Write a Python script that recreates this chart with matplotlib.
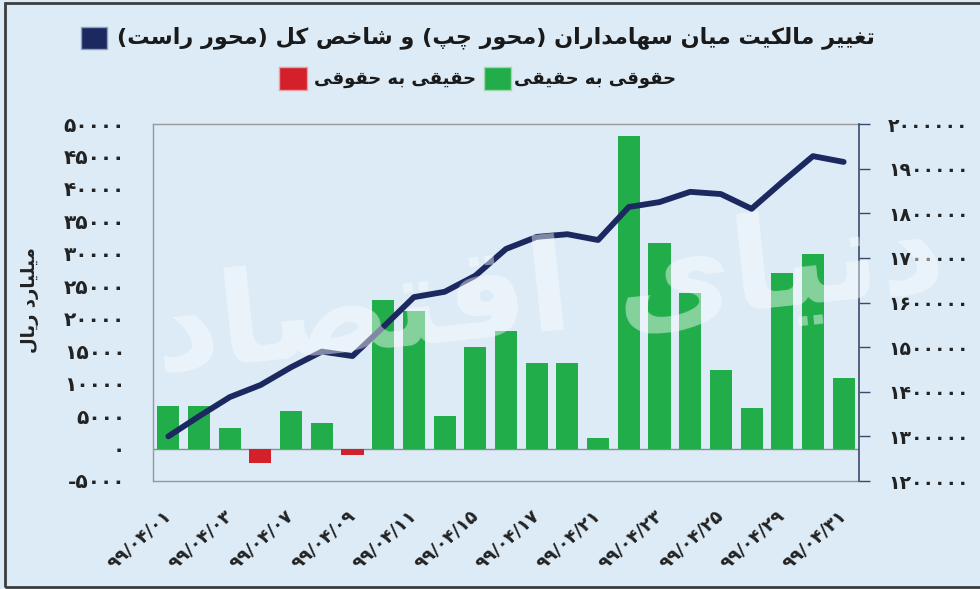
import matplotlib
matplotlib.use("Agg")
import matplotlib.pyplot as plt
from matplotlib.patches import Rectangle
import numpy as np

# ---------------- data ----------------
dates = ["۹۹/۰۴/۰۱", "۹۹/۰۴/۰۲", "۹۹/۰۴/۰۳", "۹۹/۰۴/۰۴", "۹۹/۰۴/۰۷", "۹۹/۰۴/۰۸",
         "۹۹/۰۴/۰۹", "۹۹/۰۴/۱۰", "۹۹/۰۴/۱۱", "۹۹/۰۴/۱۴", "۹۹/۰۴/۱۵", "۹۹/۰۴/۱۶",
         "۹۹/۰۴/۱۷", "۹۹/۰۴/۱۸", "۹۹/۰۴/۲۱", "۹۹/۰۴/۲۲", "۹۹/۰۴/۲۳", "۹۹/۰۴/۲۴",
         "۹۹/۰۴/۲۵", "۹۹/۰۴/۲۸", "۹۹/۰۴/۲۹", "۹۹/۰۴/۳۰", "۹۹/۰۴/۳۱"]
flow = [6500, 6500, 3200, -2300, 5800, 3900, -1000, 22900, 21200, 5000, 15600, 18100,
        13200, 13200, 1700, 48100, 31600, 23900, 12100, 6300, 27000, 29900, 10900]
index_vals = [1300000, 1345000, 1388000, 1415000, 1455000, 1490000, 1480000, 1545000,
              1612000, 1624000, 1660000, 1720000, 1747000, 1753000, 1740000, 1814000,
              1825000, 1848000, 1843000, 1810000, 1870000, 1928000, 1915000]
left_ticks = [-5000, 0, 5000, 10000, 15000, 20000, 25000, 30000, 35000, 40000, 45000, 50000]
right_ticks = [1200000, 1300000, 1400000, 1500000, 1600000, 1700000, 1800000, 1900000, 2000000]
title_txt = "تغییر مالکیت میان سهامداران (محور چپ) و شاخص کل (محور راست)"
leg_green = "حقوقی به حقیقی"
leg_red = "حقیقی به حقوقی"
ylabel_txt = "میلیارد ریال"
watermark_txt = "دنیای اقتصاد"

# ---------------- simple Persian shaping ----------------
FORMS = {
    'ا': ('\uFE8D', '\uFE8E', None, None), 'آ': ('\uFE81', '\uFE82', None, None),
    'ب': ('\uFE8F', '\uFE90', '\uFE91', '\uFE92'), 'پ': ('\uFB56', '\uFB57', '\uFB58', '\uFB59'),
    'ت': ('\uFE95', '\uFE96', '\uFE97', '\uFE98'), 'ث': ('\uFE99', '\uFE9A', '\uFE9B', '\uFE9C'),
    'ج': ('\uFE9D', '\uFE9E', '\uFE9F', '\uFEA0'), 'چ': ('\uFB7A', '\uFB7B', '\uFB7C', '\uFB7D'),
    'ح': ('\uFEA1', '\uFEA2', '\uFEA3', '\uFEA4'), 'خ': ('\uFEA5', '\uFEA6', '\uFEA7', '\uFEA8'),
    'د': ('\uFEA9', '\uFEAA', None, None), 'ذ': ('\uFEAB', '\uFEAC', None, None),
    'ر': ('\uFEAD', '\uFEAE', None, None), 'ز': ('\uFEAF', '\uFEB0', None, None),
    'ژ': ('\uFB8A', '\uFB8B', None, None),
    'س': ('\uFEB1', '\uFEB2', '\uFEB3', '\uFEB4'), 'ش': ('\uFEB5', '\uFEB6', '\uFEB7', '\uFEB8'),
    'ص': ('\uFEB9', '\uFEBA', '\uFEBB', '\uFEBC'), 'ض': ('\uFEBD', '\uFEBE', '\uFEBF', '\uFEC0'),
    'ط': ('\uFEC1', '\uFEC2', '\uFEC3', '\uFEC4'), 'ظ': ('\uFEC5', '\uFEC6', '\uFEC7', '\uFEC8'),
    'ع': ('\uFEC9', '\uFECA', '\uFECB', '\uFECC'), 'غ': ('\uFECD', '\uFECE', '\uFECF', '\uFED0'),
    'ف': ('\uFED1', '\uFED2', '\uFED3', '\uFED4'), 'ق': ('\uFED5', '\uFED6', '\uFED7', '\uFED8'),
    'ک': ('\uFB8E', '\uFB8F', '\uFB90', '\uFB91'), 'گ': ('\uFB92', '\uFB93', '\uFB94', '\uFB95'),
    'ل': ('\uFEDD', '\uFEDE', '\uFEDF', '\uFEE0'), 'م': ('\uFEE1', '\uFEE2', '\uFEE3', '\uFEE4'),
    'ن': ('\uFEE5', '\uFEE6', '\uFEE7', '\uFEE8'), 'ه': ('\uFEE9', '\uFEEA', '\uFEEB', '\uFEEC'),
    'و': ('\uFEED', '\uFEEE', None, None),
    'ی': ('\uFBFC', '\uFBFD', '\uFBFE', '\uFBFF'),
}


def shape(s):
    out = []
    n = len(s)
    for i, ch in enumerate(s):
        if ch not in FORMS:
            out.append(ch)
            continue
        f = FORMS[ch]
        prev = s[i - 1] if i > 0 else None
        nxt = s[i + 1] if i < n - 1 else None
        jp = prev in FORMS and FORMS[prev][2] is not None
        jn = f[2] is not None and nxt in FORMS
        if jp and jn:
            out.append(f[3])
        elif jp:
            out.append(f[1])
        elif jn:
            out.append(f[2])
        else:
            out.append(f[0])
    vis = ''.join(reversed(out))
    vis = vis.translate(str.maketrans({'(': ')', ')': '('}))
    return vis


def fa(v):
    return str(v).translate(str.maketrans('0123456789', '۰۱۲۳۴۵۶۷۸۹'))


# ---------------- style ----------------
BG = '#dcebf6'
GREEN = '#22ad4b'
RED = '#d4202a'
NAVY = '#1c2960'
FONT = ['DejaVu Sans']
plt.rcParams['font.family'] = FONT

W, H = 980, 589
fig = plt.figure(figsize=(W / 100, H / 100), dpi=100, facecolor=BG)

ax = fig.add_axes([153 / W, 1 - 481 / H, (859 - 153) / W, (481 - 124) / H])
ax.set_facecolor(BG)
x = np.arange(len(dates))
colors = [GREEN if v >= 0 else RED for v in flow]
ax.bar(x, flow, width=0.72, color=colors, zorder=2)
ax.axhline(0, color='#8c8c8c', lw=1.0, zorder=1)
ax.set_xlim(-0.5, len(dates) - 0.5)
ax.set_ylim(-5000, 50000)
ax.set_yticks(left_ticks)
ax.set_yticklabels([fa(t) for t in left_ticks], fontsize=14.5, fontweight='bold', color='#222')
ax.tick_params(axis='y', length=0, pad=20)
ax.set_xticks(x[::2])
ax.set_xticklabels(dates[::2], rotation=42, ha='right', va='center', rotation_mode='anchor',
                   fontsize=13, fontweight='bold', color='#222')
ax.tick_params(axis='x', length=0, pad=23)
for side in ['left', 'top', 'bottom']:
    ax.spines[side].set_color('#999999')
    ax.spines[side].set_linewidth(1.0)
ax.spines['right'].set_visible(False)

ax2 = ax.twinx()
ax2.plot(x, index_vals, color=NAVY, lw=4.2, solid_capstyle='round', solid_joinstyle='round', zorder=5)
ax2.set_ylim(1200000, 2000000)
ax2.set_yticks(right_ticks)
ax2.set_yticklabels([fa(t) for t in right_ticks], fontsize=13.5, fontweight='bold', color='#222')
ax2.tick_params(axis='y', length=8, width=1.0, color='#3a4a6a', pad=13)
for side in ['left', 'top', 'bottom']:
    ax2.spines[side].set_visible(False)
ax2.spines['right'].set_color('#3a4a6a')
ax2.spines['right'].set_linewidth(1.2)

# watermark
fig.text(0.56, 0.50, shape(watermark_txt), fontsize=92, color='white', alpha=0.45,
         ha='center', va='center', rotation=6, zorder=10, fontweight='bold')

# y label
fig.text(30 / W, 1 - 300 / H, shape(ylabel_txt), rotation=90, ha='center', va='center',
         fontsize=13, fontweight='bold', color='#222')

# title / legend
fig.text(875 / W, 1 - 38 / H, shape(title_txt), ha='right', va='center',
         fontsize=16, fontweight='bold', color='#1a1a1a')
fig.add_artist(Rectangle((81 / W, 1 - 49 / H), 26 / W, 22 / H, transform=fig.transFigure,
                         facecolor=NAVY, edgecolor='#8f9fc0', lw=1))
fig.text(676 / W, 1 - 79 / H, shape(leg_green), ha='right', va='center',
         fontsize=13, fontweight='bold', color='#1a1a1a')
fig.add_artist(Rectangle((484 / W, 1 - 90 / H), 27 / W, 23 / H, transform=fig.transFigure,
                         facecolor=GREEN, edgecolor='#9fd8a8', lw=1))
fig.text(476 / W, 1 - 79 / H, shape(leg_red), ha='right', va='center',
         fontsize=13, fontweight='bold', color='#1a1a1a')
fig.add_artist(Rectangle((279 / W, 1 - 90 / H), 28 / W, 23 / H, transform=fig.transFigure,
                         facecolor=RED, edgecolor='#e8a0a0', lw=1))

# figure border
fig.add_artist(Rectangle((5 / W, 2 / H), 1.2, 1 - 5 / H, transform=fig.transFigure,
                         facecolor='none', edgecolor='#3c3c3c', lw=2))

fig.savefig('out.png', dpi=100, facecolor=BG)
